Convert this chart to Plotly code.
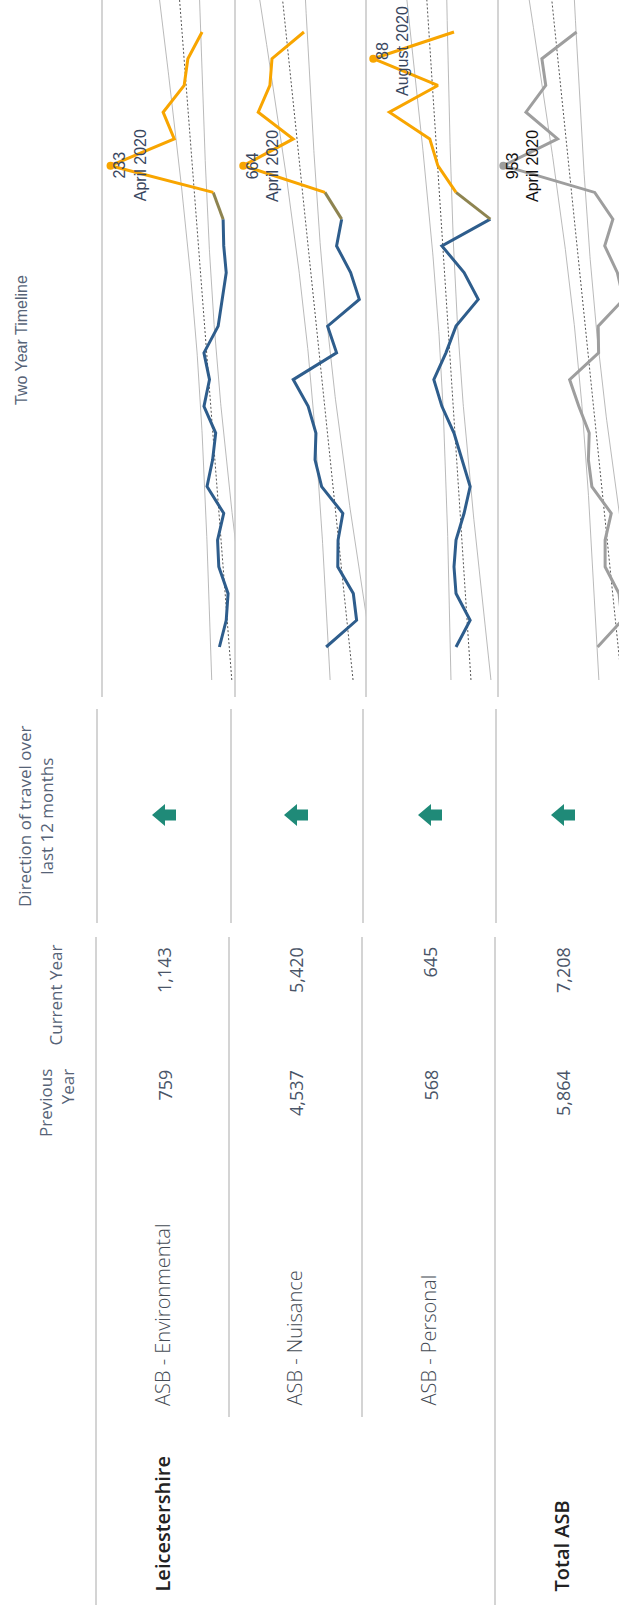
import numpy as np
import plotly.graph_objects as go

# ---------------- data ----------------
months = ["October 2018", "November 2018", "December 2018", "January 2019", "February 2019",
          "March 2019", "April 2019", "May 2019", "June 2019", "July 2019", "August 2019",
          "September 2019", "October 2019", "November 2019", "December 2019", "January 2020",
          "February 2020", "March 2020", "April 2020", "May 2020", "June 2020", "July 2020",
          "August 2020", "September 2020"]
highlight_from = "March 2020"

row_labels = ["ASB - Environmental", "ASB - Nuisance", "ASB - Personal", "Total ASB"]
group_label = "Leicestershire"

environmental = [57, 46, 43, 58, 60, 50, 77, 68, 63, 82, 73, 82,
                 59, 52, 46, 50, 51, 67, 233, 130, 148, 114, 108, 85]
nuisance = [387, 285, 296, 348, 347, 331, 402, 424, 421, 447, 497, 352,
            382, 276, 305, 352, 335, 391, 664, 497, 614, 575, 568, 461]
personal = [47, 40, 47, 48, 47, 43, 40, 44, 48, 54, 58, 52,
            47, 36, 43, 54, 30, 47, 56, 60, 80, 56, 88, 48]
total_asb = [491, 371, 386, 454, 454, 424, 519, 536, 532, 583, 628, 486,
             488, 364, 394, 456, 416, 505, 953, 687, 842, 745, 764, 594]

previous_year = [759, 4537, 568, 5864]
current_year = [1143, 5420, 645, 7208]
direction = ["up", "up", "up", "up"]

series = [environmental, nuisance, personal, total_asb]

# ---------------- layout / style ----------------
W, H = 619, 1605


def px(x):
    return x / W


def py(y):
    return 1 - y / H


BLUE = "#2e5d8c"
ORANGE = "#f8a500"
MIX = "#8e8450"
GRAY = "#9e9e9e"
TEAL = "#1f8a78"
SEP = "#c6c6c6"
HEAD_COL = "#566377"
VAL_COL = "#4a5568"
LABEL_COL = "#454c55"

pane_x = [(102, 235), (235, 366), (366, 498), (498, 619)]
value_range = [(246.8, 31.8), (691.7, 253.6), (91.6, 26.2), (979, 386)]
pane_top, pane_bottom = 0, 680
time_range = [-1.234, 24.196]
split = months.index(highlight_from)

fig = go.Figure()
annotations = []
shapes = []

t = np.arange(len(months), dtype=float)
tt = np.linspace(time_range[0], time_range[1], 200)
tcrit = 2.0739  # 95% t, 22 dof

for k, vals in enumerate(series):
    xa = "x" if k == 0 else f"x{k + 1}"
    ya = "y" if k == 0 else f"y{k + 1}"
    v = np.array(vals, dtype=float)
    n = len(v)
    b, a = np.polyfit(t, v, 1)
    resid = v - (a + b * t)
    s = np.sqrt((resid ** 2).sum() / (n - 2))
    se = s * np.sqrt(1 / n + (tt - t.mean()) ** 2 / ((t - t.mean()) ** 2).sum())
    fit = a + b * tt
    for band in (fit - tcrit * se, fit + tcrit * se):
        fig.add_trace(go.Scatter(x=band, y=tt, mode="lines", xaxis=xa, yaxis=ya,
                                 line=dict(color="#a8a8a8", width=0.8),
                                 hoverinfo="skip", showlegend=False))
    fig.add_trace(go.Scatter(x=fit, y=tt, mode="lines", xaxis=xa, yaxis=ya,
                             line=dict(color="#555555", width=1, dash="2px,2px"),
                             hoverinfo="skip", showlegend=False))
    if k < 3:
        segs = [(0, split, BLUE), (split - 1, split + 1, MIX), (split, n, ORANGE)]
        peak_col = ORANGE
        lab_col = "#38465e"
    else:
        segs = [(0, n, GRAY)]
        peak_col = GRAY
        lab_col = "#111111"
    for i0, i1, col in segs:
        fig.add_trace(go.Scatter(x=vals[i0:i1], y=t[i0:i1], mode="lines", xaxis=xa, yaxis=ya,
                                 line=dict(color=col, width=3),
                                 hoverinfo="skip", showlegend=False))
    ip = int(np.argmax(v))
    fig.add_trace(go.Scatter(x=[vals[ip]], y=[t[ip]], mode="markers", xaxis=xa, yaxis=ya,
                             marker=dict(color=peak_col, size=8),
                             hoverinfo="skip", showlegend=False))
    annotations.append(dict(x=vals[ip], y=t[ip], xref=xa, yref=ya,
                            text=f"{vals[ip]:,}<br>{months[ip]}", showarrow=False,
                            textangle=-90, xanchor="left", yanchor="middle",
                            xshift=-2, yshift=8 if ip == n - 2 else 0,
                            font=dict(family="Liberation Sans, Arial", size=16, color=lab_col)))

layout_axes = {}
for k in range(4):
    xn = "xaxis" if k == 0 else f"xaxis{k + 1}"
    yn = "yaxis" if k == 0 else f"yaxis{k + 1}"
    ya = "y" if k == 0 else f"y{k + 1}"
    xa = "x" if k == 0 else f"x{k + 1}"
    layout_axes[xn] = dict(domain=[px(pane_x[k][0]), px(pane_x[k][1])], range=list(value_range[k]),
                           visible=False, anchor=ya, fixedrange=True)
    layout_axes[yn] = dict(domain=[py(pane_bottom), py(pane_top)], range=time_range,
                           visible=False, anchor=xa, fixedrange=True)


# separators
def vline(x, y0, y1, color=SEP, width=1.5):
    shapes.append(dict(type="line", xref="paper", yref="paper", x0=px(x), x1=px(x),
                       y0=py(y0), y1=py(y1), line=dict(color=color, width=width)))


for x in (102, 235, 366, 498):
    vline(x, 0, 697)
for x in (97, 231, 363, 496):
    vline(x, 709, 923)
vline(96, 937, 1605)
vline(229, 937, 1417)
vline(362, 937, 1417)
vline(495, 937, 1605)

# headers
HEAD_FONT = dict(family="Open Sans", size=17, color=HEAD_COL)
annotations.append(dict(x=px(21), y=py(340), xref="paper", yref="paper", text="Two Year Timeline",
                        showarrow=False, textangle=-90, xanchor="center", yanchor="middle",
                        font=dict(family="Liberation Sans, Arial", size=16, color=HEAD_COL)))
annotations.append(dict(x=px(35), y=py(816), xref="paper", yref="paper",
                        text="Direction of travel over<br>last 12 months", align="center",
                        showarrow=False, textangle=-90, xanchor="center", yanchor="middle",
                        font=HEAD_FONT))
annotations.append(dict(x=px(55), y=py(943), xref="paper", yref="paper", text="Current Year",
                        showarrow=False, textangle=-90, xanchor="center", yanchor="top",
                        font=HEAD_FONT))
annotations.append(dict(x=px(56), y=py(1067), xref="paper", yref="paper", text="Previous<br>Year",
                        align="right", showarrow=False, textangle=-90, xanchor="center",
                        yanchor="top", font=HEAD_FONT))

col_center = [164, 296, 430, 563]
arrow_paths = {
    "up": "M -12,0 L 1,11 L 1,5.5 L 12,5.5 L 12,-5.5 L 1,-5.5 L 1,-11 Z",
    "down": "M 12,0 L -1,11 L -1,5.5 L -12,5.5 L -12,-5.5 L -1,-5.5 L -1,-11 Z",
}
for k in range(4):
    cx = col_center[k]
    annotations.append(dict(x=px(cx), y=py(945), xref="paper", yref="paper",
                            text=f"{current_year[k]:,}", showarrow=False, textangle=-90,
                            xanchor="center", yanchor="top",
                            font=dict(family="Open Sans", size=18, color=VAL_COL)))
    annotations.append(dict(x=px(cx), y=py(1068), xref="paper", yref="paper",
                            text=f"{previous_year[k]:,}", showarrow=False, textangle=-90,
                            xanchor="center", yanchor="top",
                            font=dict(family="Open Sans", size=18, color=VAL_COL)))
    shapes.append(dict(type="path", xref="paper", yref="paper", xsizemode="pixel",
                       ysizemode="pixel", xanchor=px(cx), yanchor=py(815),
                       path=arrow_paths[direction[k]], fillcolor=TEAL, line=dict(width=0)))

for k in range(3):
    annotations.append(dict(x=px(col_center[k] - 2), y=py(1408), xref="paper", yref="paper",
                            text=row_labels[k], showarrow=False, textangle=-90,
                            xanchor="center", yanchor="bottom",
                            font=dict(family="Open Sans", size=20, color=LABEL_COL, weight=300)))
annotations.append(dict(x=px(162), y=py(1594), xref="paper", yref="paper",
                        text=group_label, showarrow=False, textangle=-90,
                        xanchor="center", yanchor="bottom",
                        font=dict(family="Open Sans", size=20, color="#222222", weight=600)))
annotations.append(dict(x=px(561), y=py(1594), xref="paper", yref="paper",
                        text=row_labels[3], showarrow=False, textangle=-90,
                        xanchor="center", yanchor="bottom",
                        font=dict(family="Open Sans", size=20, color="#222222", weight=600)))

fig.update_layout(width=W, height=H, margin=dict(l=0, r=0, t=0, b=0),
                  paper_bgcolor="white", plot_bgcolor="white", showlegend=False,
                  annotations=annotations, shapes=shapes, **layout_axes)

fig.write_html("out.html", config={"displayModeBar": False})
